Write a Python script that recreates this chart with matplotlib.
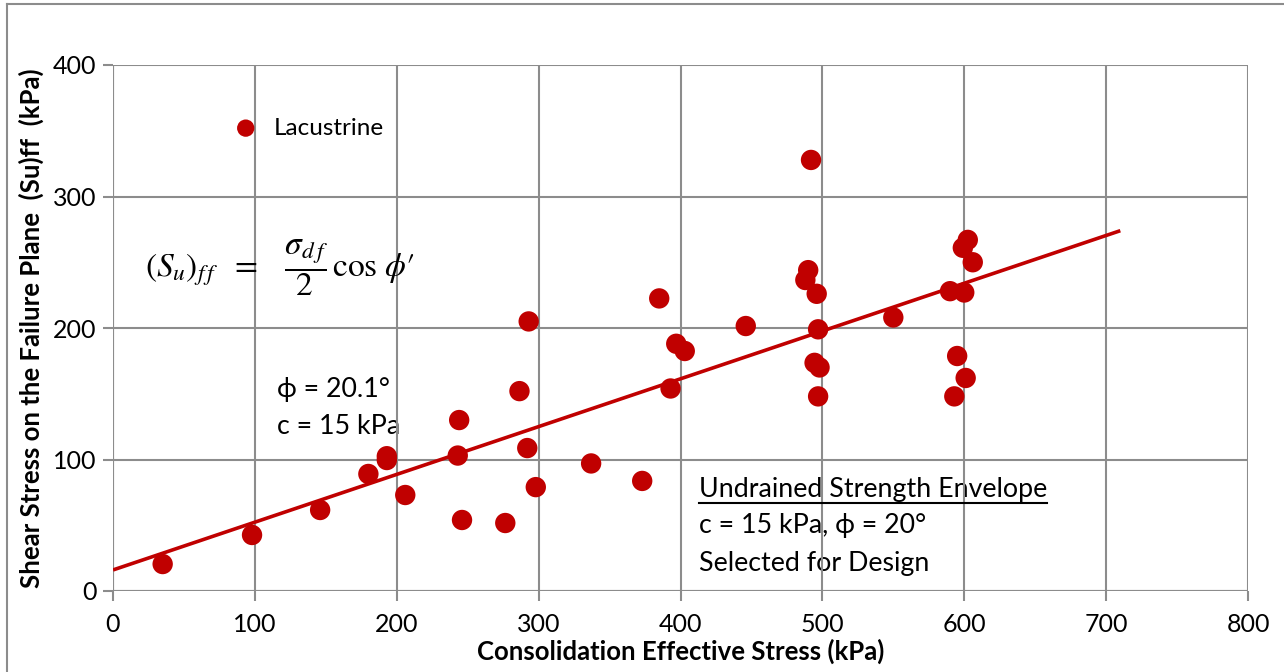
import matplotlib
matplotlib.use("Agg")
import matplotlib.pyplot as plt
from matplotlib.lines import Line2D

# ---- data ----
consolidation_stress = [35, 98, 146, 180, 193, 193, 206, 244, 243, 246, 276.5, 286.5,
                        292, 293, 298, 337, 373, 385, 393, 397, 403, 446,
                        492, 490, 488, 496, 497, 494.5, 498, 497, 550,
                        590, 600, 602.5, 599, 606, 595, 601, 593]
shear_stress = [20.5, 42.6, 61.6, 89, 99.6, 102.5, 73, 130, 103, 54, 51.7, 152,
                108.7, 205, 79, 97, 83.7, 222.5, 154, 188, 182.5, 201.5,
                327.8, 244, 236.5, 226, 199, 173.5, 170, 148, 208,
                228, 227, 267, 261, 250, 178.7, 162, 148]
envelope_x = [0, 710]
envelope_y = [16, 274]
x_ticks = [0, 100, 200, 300, 400, 500, 600, 700, 800]
y_ticks = [0, 100, 200, 300, 400]

RED = "#C00000"
GRID = "#8C8C8C"
FONT = ["Lato", "DejaVu Sans"]
plt.rcParams["font.family"] = FONT
plt.rcParams["mathtext.fontset"] = "stix"

W, H = 1284, 672
fig = plt.figure(figsize=(W / 100, H / 100), dpi=100)
ax = fig.add_axes([113 / W, 1 - 591 / H, (1248 - 113) / W, (591 - 65) / H])

def fx(px):
    return px / W

def fy(py):
    return 1 - py / H

ax.plot(envelope_x, envelope_y, color=RED, lw=2.6, zorder=3, solid_capstyle="butt")
ax.scatter(consolidation_stress, shear_stress, s=215, color=RED, edgecolors="none",
           zorder=4, label="Lacustrine")

ax.set_xlim(0, 800)
ax.set_ylim(0, 400)
ax.set_xticks(x_ticks)
ax.set_yticks(y_ticks)
ax.grid(True, color=GRID, lw=1.5)
ax.set_axisbelow(False)
for sp in ax.spines.values():
    sp.set_visible(False)
ax.tick_params(axis="both", length=7, width=1.5, color=GRID, labelsize=18,
               labelcolor="black", direction="out")
ax.tick_params(axis="x", pad=9)
ax.tick_params(axis="y", pad=5)
ax.axvline(0, color=GRID, lw=1.5, zorder=2.5)
ax.axhline(0, color=GRID, lw=1.5, zorder=2.5)

ax.set_xlabel("Consolidation Effective Stress (kPa)", fontsize=18.5, fontweight="bold",
              labelpad=2)
ax.set_ylabel("Shear Stress on the Failure Plane  (Su)ff  (kPa)", fontsize=18.5,
              fontweight="bold", labelpad=6)

leg = ax.legend(loc="center left", bbox_to_anchor=((236 - 113) / (1248 - 113), (591 - 128) / (591 - 65)),
                frameon=False, fontsize=17.5, markerscale=0.85, handletextpad=0.75,
                borderaxespad=0, borderpad=0, handlelength=0.8)

# equation
ax.text(fx(145), fy(268),
        r"$(S_u)_{f\,f}\;\ =\ \;\ \dfrac{\sigma_{d\,f}}{2}\,\cos\,\phi\prime$",
        transform=fig.transFigure, fontsize=24, va="center", ha="left")

TXT = 19.3
ax.text(fx(277), fy(389), "ϕ = 20.1°", transform=fig.transFigure,
        fontsize=TXT, va="center", ha="left", zorder=1)
ax.text(fx(277), fy(426), "c = 15 kPa", transform=fig.transFigure,
        fontsize=TXT, va="center", ha="left", zorder=1)

t1 = ax.text(fx(699), fy(489), "Undrained Strength Envelope", transform=fig.transFigure,
             fontsize=TXT, va="center", ha="left", zorder=1)
ax.text(fx(699), fy(526), "c = 15 kPa, ϕ = 20°", transform=fig.transFigure,
        fontsize=TXT, va="center", ha="left", zorder=1)
ax.text(fx(699), fy(563), "Selected for Design", transform=fig.transFigure,
        fontsize=TXT, va="center", ha="left", zorder=1)

# underline first line
fig.canvas.draw()
bb = t1.get_window_extent(renderer=fig.canvas.get_renderer())
fig.add_artist(Line2D([bb.x0 / W, bb.x1 / W], [fy(503), fy(503)],
                      transform=fig.transFigure, color="black", lw=1.5))

# outer chart border (top & left visible)
fig.add_artist(Line2D([fx(7), 1.0], [fy(4), fy(4)], transform=fig.transFigure,
                      color=GRID, lw=1.5))
fig.add_artist(Line2D([fx(7), fx(7)], [0, fy(4)], transform=fig.transFigure,
                      color=GRID, lw=1.5))

fig.savefig("out.png", dpi=100)
